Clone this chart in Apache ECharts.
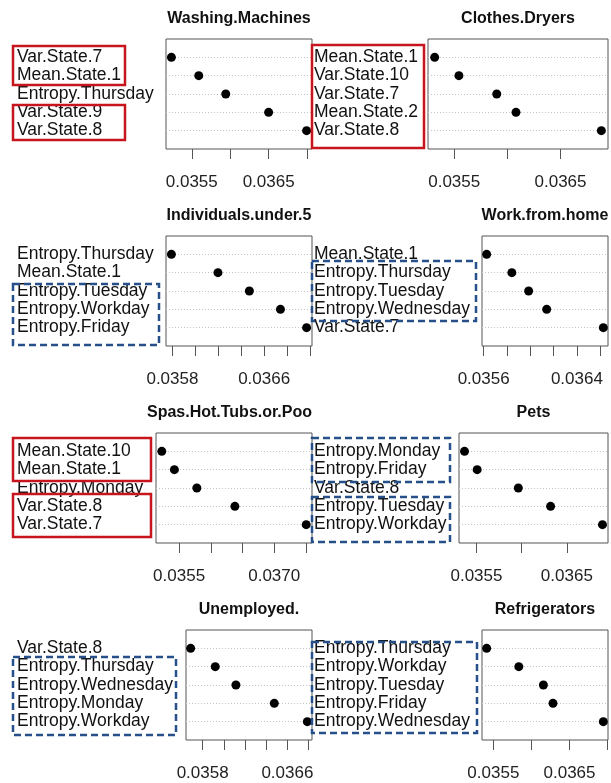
<!DOCTYPE html>
<html>
<head>
<meta charset="utf-8">
<script src="https://cdn.jsdelivr.net/npm/echarts@6/dist/echarts.min.js"></script>
<style>
  html, body { margin: 0; padding: 0; background: #fff; }
  #main { width: 611px; height: 783px; }
</style>
</head>
<body>
<div id="main"></div>
<script>
// panel titles
var titles = ['Washing.Machines', 'Clothes.Dryers', 'Individuals.under.5', 'Work.from.home',
              'Spas.Hot.Tubs.or.Poo', 'Pets', 'Unemployed.', 'Refrigerators'];

// labels of each panel, top to bottom
var washingLabels = ['Var.State.7', 'Mean.State.1', 'Entropy.Thursday', 'Var.State.9', 'Var.State.8'];
var dryerLabels = ['Mean.State.1', 'Var.State.10', 'Var.State.7', 'Mean.State.2', 'Var.State.8'];
var kidsLabels = ['Entropy.Thursday', 'Mean.State.1', 'Entropy.Tuesday', 'Entropy.Workday', 'Entropy.Friday'];
var homeLabels = ['Mean.State.1', 'Entropy.Thursday', 'Entropy.Tuesday', 'Entropy.Wednesday', 'Var.State.7'];
var spaLabels = ['Mean.State.10', 'Mean.State.1', 'Entropy.Monday', 'Var.State.8', 'Var.State.7'];
var petLabels = ['Entropy.Monday', 'Entropy.Friday', 'Var.State.8', 'Entropy.Tuesday', 'Entropy.Workday'];
var unemployedLabels = ['Var.State.8', 'Entropy.Thursday', 'Entropy.Wednesday', 'Entropy.Monday', 'Entropy.Workday'];
var fridgeLabels = ['Entropy.Thursday', 'Entropy.Workday', 'Entropy.Tuesday', 'Entropy.Friday', 'Entropy.Wednesday'];

// values, same order as labels
var washingValues = [0.035235, 0.035591, 0.035942, 0.036500, 0.036994];
var dryerValues = [0.035316, 0.035544, 0.035900, 0.036081, 0.036884];
var kidsValues = [0.035791, 0.036197, 0.036471, 0.036742, 0.036970];
var homeValues = [0.035626, 0.035842, 0.035986, 0.036141, 0.036627];
var spaValues = [0.035227, 0.035426, 0.035780, 0.036380, 0.037505];
var petValues = [0.035368, 0.035508, 0.035963, 0.036320, 0.036894];
var unemployedValues = [0.035687, 0.035919, 0.036114, 0.036476, 0.036788];
var fridgeValues = [0.035412, 0.035834, 0.036157, 0.036283, 0.036944];

// x ticks and the tick labels that are shown
var washingTicks = [0.0355, 0.0360, 0.0365, 0.0370];
var dryerTicks = [0.0355, 0.0360, 0.0365];
var kidsTicks = [0.0358, 0.0360, 0.0362, 0.0364, 0.0366, 0.0368, 0.0370];
var homeTicks = [0.0356, 0.0358, 0.0360, 0.0362, 0.0364, 0.0366];
var spaTicks = [0.0355, 0.0360, 0.0365, 0.0370, 0.0375];
var petTicks = [0.0355, 0.0360, 0.0365];
var unemployedTicks = [0.0358, 0.0360, 0.0362, 0.0364, 0.0366, 0.0368];
var fridgeTicks = [0.0355, 0.0360, 0.0365, 0.0370];

var washingTickLabels = [0.0355, 0.0365];
var dryerTickLabels = [0.0355, 0.0365];
var kidsTickLabels = [0.0358, 0.0366];
var homeTickLabels = [0.0356, 0.0364];
var spaTickLabels = [0.0355, 0.0370];
var petTickLabels = [0.0355, 0.0365];
var unemployedTickLabels = [0.0358, 0.0366];
var fridgeTickLabels = [0.0355, 0.0365];

var allLabels = [washingLabels, dryerLabels, kidsLabels, homeLabels, spaLabels, petLabels, unemployedLabels, fridgeLabels];
var allValues = [washingValues, dryerValues, kidsValues, homeValues, spaValues, petValues, unemployedValues, fridgeValues];
var allTicks = [washingTicks, dryerTicks, kidsTicks, homeTicks, spaTicks, petTicks, unemployedTicks, fridgeTicks];
var allTickLabels = [washingTickLabels, dryerTickLabels, kidsTickLabels, homeTickLabels, spaTickLabels, petTickLabels, unemployedTickLabels, fridgeTickLabels];

// plot boxes [left, top, right, bottom]
var boxes = [
    [166, 39, 312, 149], [428, 39, 608, 149],
    [166, 236, 312, 346], [482, 236, 608, 346],
    [156, 433, 312, 543], [459, 433, 608, 543],
    [186, 630, 312, 740], [482, 630, 608, 740]
];
var labelX = [17, 314];

// hand drawn highlight boxes [x0, y0, x1, y1, kind]
var highlights = [
    [13, 46, 125, 85, 'red'], [13, 105, 125, 140, 'red'],
    [312, 45, 424, 148, 'red'],
    [13, 284, 159, 345, 'blue'],
    [312, 261, 476, 321, 'blue'],
    [13, 438, 151, 481, 'red'], [13, 494, 151, 537, 'red'],
    [312, 438, 450, 482, 'blue'], [312, 497, 450, 542, 'blue'],
    [13, 657, 176, 735, 'blue'],
    [312, 642, 477, 733, 'blue']
];

var font = 'Liberation Sans, Arial, sans-serif';
var grids = [], xAxes = [], yAxes = [], series = [], graphics = [];

for (var i = 0; i < 8; i++) {
    var b = boxes[i];
    var vals = allValues[i];
    var labs = allLabels[i];
    // R dotchart: data range widened by 4%
    var lo = Math.min.apply(null, vals), hi = Math.max.apply(null, vals);
    var pad = (hi - lo) * 0.04;

    grids.push({
        left: b[0], top: b[1], width: b[2] - b[0], height: b[3] - b[1],
        show: true, borderColor: '#555', borderWidth: 1, backgroundColor: 'transparent'
    });
    xAxes.push({
        type: 'value', gridIndex: i, min: lo - pad, max: hi + pad, position: 'bottom',
        axisLine: { show: false, onZero: false },
        axisTick: { show: true, inside: false, length: 10, customValues: allTicks[i],
                    lineStyle: { color: '#555' } },
        axisLabel: { show: true, margin: 25, customValues: allTickLabels[i],
                     fontFamily: font, fontSize: 17, color: '#222',
                     formatter: function (v) { return v.toFixed(4); } },
        splitLine: { show: false }
    });
    yAxes.push({
        type: 'value', gridIndex: i, min: 0, max: 6, interval: 1, inverse: true,
        axisLine: { show: false, onZero: false }, axisTick: { show: false },
        axisLabel: {
            show: true, align: 'left', margin: b[0] - labelX[i % 2],
            fontFamily: font, fontSize: 17.5, color: '#111', padding: [2, 0, 0, 0],
            formatter: (function (labs) {
                return function (v) { return labs[v - 1] || ''; };
            })(labs)
        },
        splitLine: { show: true, showMinLine: false, showMaxLine: false,
                     lineStyle: { color: '#c4c4c4', type: [1, 2], width: 1 } }
    });
    series.push({
        type: 'scatter', xAxisIndex: i, yAxisIndex: i, symbolSize: 9, silent: true,
        itemStyle: { color: '#000', opacity: 1 },
        data: vals.map(function (v, k) { return [v, k + 1]; })
    });

    var right = titles[i] === 'Spas.Hot.Tubs.or.Poo';
    graphics.push({
        type: 'text',
        x: right ? b[2] : (b[0] + b[2]) / 2, y: b[1] - 20.5,
        style: { text: titles[i], font: 'bold 16px ' + font, fill: '#111',
                 textAlign: right ? 'right' : 'center', textVerticalAlign: 'middle' }
    });
}

highlights.forEach(function (h) {
    var red = h[4] === 'red';
    graphics.push({
        type: 'rect', z: 10,
        shape: { x: h[0], y: h[1], width: h[2] - h[0], height: h[3] - h[1] },
        style: { fill: 'none', stroke: red ? '#c8141c' : '#27508a', lineWidth: 2.5,
                 lineDash: red ? null : [7, 4] }
    });
});

var chart = echarts.init(document.getElementById('main'), null, { renderer: 'canvas' });
chart.setOption({
    animation: false,
    backgroundColor: '#fff',
    grid: grids,
    xAxis: xAxes,
    yAxis: yAxes,
    series: series,
    graphic: graphics
});
</script>
</body>
</html>
